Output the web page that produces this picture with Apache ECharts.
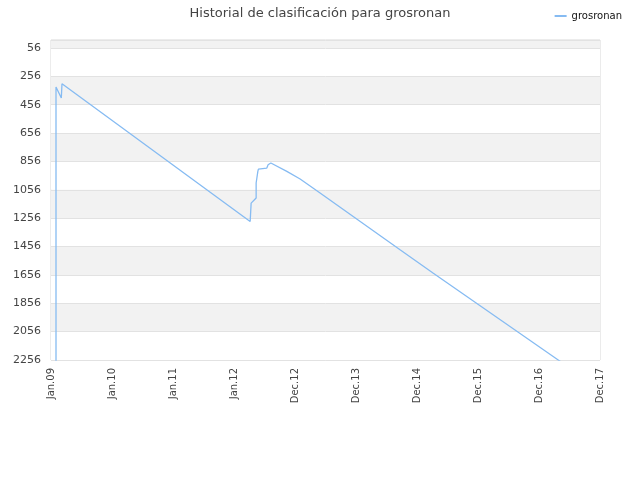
<!DOCTYPE html>
<html>
<head>
<meta charset="utf-8">
<script src="https://cdn.jsdelivr.net/npm/echarts@6/dist/echarts.min.js"></script>
<style>html,body{margin:0;padding:0;background:#fff}#c{width:640px;height:480px}</style>
</head>
<body>
<div id="c"></div>
<script>
var xTickLabels = ['Jan.09','Jan.10','Jan.11','Jan.12','Dec.12','Dec.13','Dec.14','Dec.15','Dec.16','Dec.17'];
var yTickValues = [56,256,456,656,856,1056,1256,1456,1656,1856,2056,2256];
var seriesName = 'grosronan';
// x positions in label-index units, ranks
var xPos = [0.082,0.082,0.169,0.18,3.265,3.281,3.297,3.363,3.363,3.391,3.400,3.538,3.559,3.604,3.866,4.084,4.411,5.722,6.262,8.315,9.0];
var ranks = [2450,331,409,308,1279,1150,1138,1114,1008,926,910,903,879,867,926,980,1079,1479,1643,2256,2460];

var chart = echarts.init(document.getElementById('c'));
var pts = xPos.map(function(x,i){return [x, ranks[i]];});
chart.setOption({
  animation:false,
  title:{text:'Historial de clasificación para grosronan',left:'center',top:2,
    textStyle:{fontFamily:'DejaVu Sans',fontSize:13,fontWeight:'normal',color:'#444'}},
  legend:{right:13,top:6,itemWidth:12,itemHeight:2,itemGap:5,icon:'rect',
    textStyle:{fontFamily:'DejaVu Sans',fontSize:10,color:'#111'},data:[seriesName]},
  grid:{left:51,right:40,top:40,bottom:120,show:true,borderColor:'#d8d8d8',borderWidth:1,containLabel:false},
  xAxis:{type:'value',min:0,max:9,interval:1,
    axisLine:{show:false},axisTick:{show:false},splitLine:{show:false},
    axisLabel:{rotate:90,fontFamily:'DejaVu Sans',fontSize:10,color:'#444',margin:8,
      formatter:function(v){return xTickLabels[Math.round(v)]||'';}}},
  yAxis:{type:'value',inverse:true,min:0,max:2256,
    axisLine:{show:false},
    axisTick:{show:false,customValues:[0].concat(yTickValues)},
    axisLabel:{customValues:yTickValues,fontFamily:'DejaVu Sans',fontSize:11,color:'#444',margin:10,
      formatter:function(v){return String(v);}},
    splitLine:{show:true,lineStyle:{color:'#e2e2e2',width:1}},
    splitArea:{show:true,areaStyle:{color:['#f2f2f2','#ffffff']}}},
  series:[{name:seriesName,type:'line',data:pts,symbol:'none',clip:true,
    lineStyle:{color:'#86bbf2',width:1.3},itemStyle:{color:'#86bbf2'}}]
});
</script>
</body>
</html>
